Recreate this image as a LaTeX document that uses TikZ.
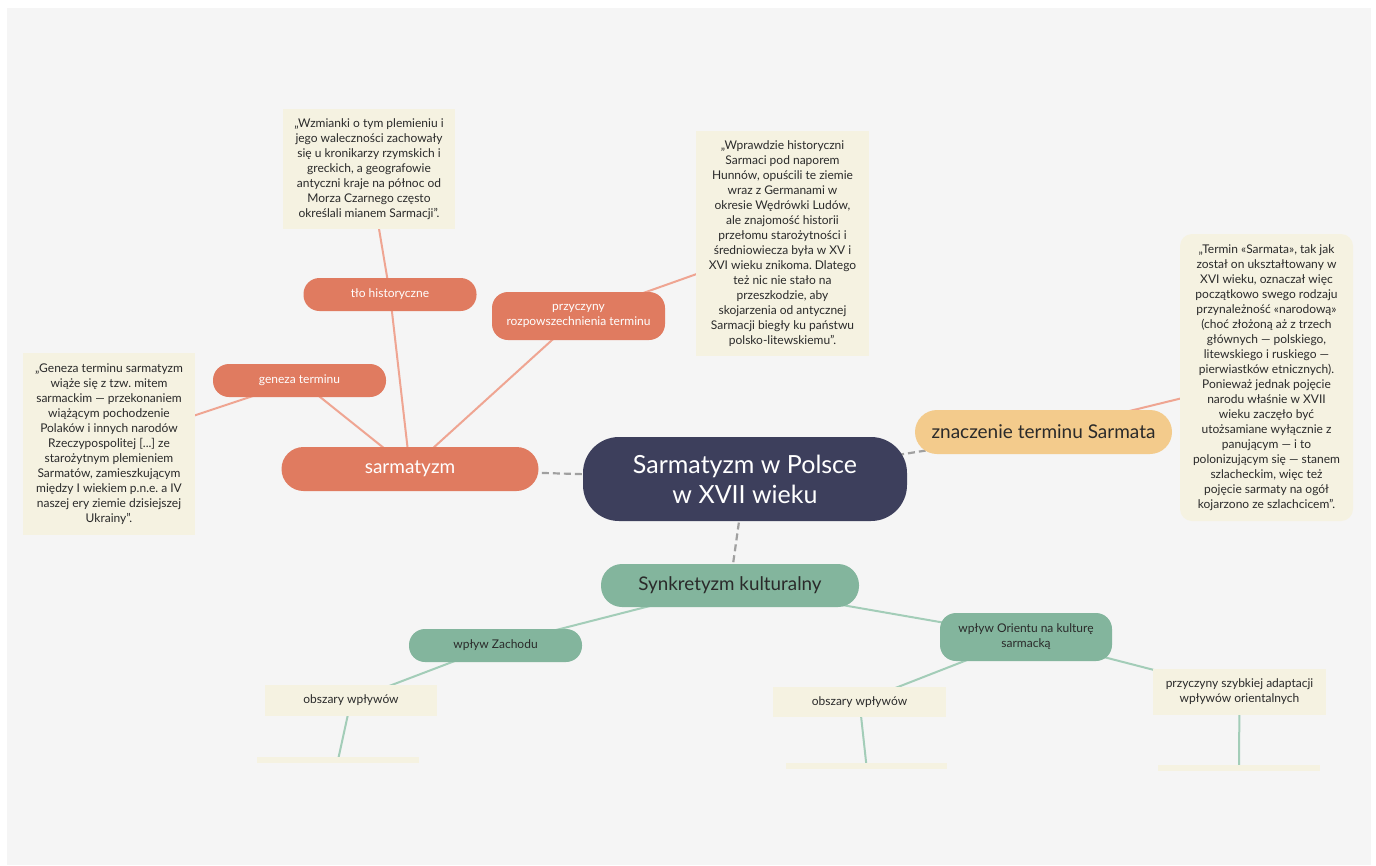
\documentclass[tikz,border=0pt]{standalone}
\usepackage{fontspec}
\setmainfont{Lato}
\frenchspacing
\definecolor{bggray}{HTML}{F5F5F5}
\definecolor{navy}{HTML}{3D3F5C}
\definecolor{coral}{HTML}{E07B60}
\definecolor{coralline}{HTML}{EFA592}
\definecolor{sand}{HTML}{F3CB8C}
\definecolor{sage}{HTML}{83B59D}
\definecolor{sageline}{HTML}{A3CDB8}
\definecolor{cream}{HTML}{F5F2E1}
\definecolor{dashgray}{HTML}{A0A0A0}
\definecolor{ink}{HTML}{2A2A2A}
\pgfdeclarelayer{background}
\pgfsetlayers{background,main}
\tikzset{
  box/.style={inner sep=0pt, align=center, rectangle},
  quotebox/.style={box, fill=cream, text=ink, font=\fontsize{12}{15}\selectfont},
  coralpill/.style={box, fill=coral, text=white, font=\fontsize{12}{15}\selectfont},
  sagepill/.style={box, fill=sage, text=ink, font=\fontsize{12}{15}\selectfont},
  labelbox/.style={box, fill=cream, text=ink, font=\fontsize{12}{15}\selectfont},
  coralconn/.style={draw=coralline, line width=2pt},
  sageconn/.style={draw=sageline, line width=2pt},
  dashconn/.style={draw=dashgray, line width=2.2pt, dash pattern=on 7pt off 4pt},
}
\begin{document}
\begin{tikzpicture}[x=1pt,y=-1pt]
\useasboundingbox (0,0) rectangle (1376,865);
\begin{pgfonlayer}{background}
\fill[white] (0,0) rectangle (1376,865);
\fill[bggray] (7,8) rectangle (1371,865);
\end{pgfonlayer}

% central
\node[box, fill=navy, text=white, rounded corners=36pt, minimum width=324pt, minimum height=84pt,
  font=\fontsize{25}{30}\selectfont] (root) at (745,479) {Sarmatyzm w Polsce\\w XVII wieku};

% sarmatyzm branch
\node[coralpill, rounded corners=22pt, minimum width=257pt, minimum height=44pt,
  font=\fontsize{19}{22}\selectfont] (sarm) at (410,469) {sarmatyzm};
\node[coralpill, rounded corners=16pt, minimum width=173pt, minimum height=33pt] (tlo) at (390,294.5) {tło historyczne};
\node[coralpill, rounded corners=16pt, minimum width=173pt, minimum height=48pt] (przy) at (578.5,316) {przyczyny\\rozpowszechnienia terminu};
\node[coralpill, rounded corners=16pt, minimum width=173pt, minimum height=33pt] (gen) at (299.5,380.5) {geneza terminu};

\node[quotebox, minimum width=172pt, minimum height=120pt] (qtlo) at (369,169) {„Wzmianki o tym plemieniu i\\jego waleczności zachowały\\się u kronikarzy rzymskich i\\greckich, a geografowie\\antyczni kraje na północ od\\Morza Czarnego często\\określali mianem Sarmacji”.};
\node[quotebox, minimum width=173pt, minimum height=225pt] (qprzy) at (782.5,243.5) {„Wprawdzie historyczni\\Sarmaci pod naporem\\Hunnów, opuścili te ziemie\\wraz z Germanami w\\okresie Wędrówki Ludów,\\ale znajomość historii\\przełomu starożytności i\\średniowiecza była w XV i\\XVI wieku znikoma. Dlatego\\też nic nie stało na\\przeszkodzie, aby\\skojarzenia od antycznej\\Sarmacji biegły ku państwu\\polsko-litewskiemu”.};
\node[quotebox, minimum width=172pt, minimum height=182pt] (qgen) at (109,444) {„Geneza terminu sarmatyzm\\wiąże się z tzw. mitem\\sarmackim — przekonaniem\\wiążącym pochodzenie\\Polaków i innych narodów\\Rzeczypospolitej [...] ze\\starożytnym plemieniem\\Sarmatów, zamieszkującym\\między I wiekiem p.n.e. a IV\\naszej ery ziemie dzisiejszej\\Ukrainy”.};

% znaczenie
\node[box, fill=sand, text=ink, rounded corners=22pt, minimum width=257pt, minimum height=44pt,
  font=\fontsize{19}{22}\selectfont] (znacz) at (1043.5,432) {znaczenie terminu Sarmata};
\node[quotebox, rounded corners=12pt, minimum width=173pt, minimum height=287pt] (qznacz) at (1266.5,377.5) {„Termin «Sarmata», tak jak\\został on ukształtowany w\\XVI wieku, oznaczał więc\\początkowo swego rodzaju\\przynależność «narodową»\\(choć złożoną aż z trzech\\głównych — polskiego,\\litewskiego i ruskiego —\\pierwiastków etnicznych).\\Ponieważ jednak pojęcie\\narodu właśnie w XVII\\wieku zaczęło być\\utożsamiane wyłącznie z\\panującym — i to\\polonizującym się — stanem\\szlacheckim, więc też\\pojęcie sarmaty na ogół\\kojarzono ze szlachcicem”.};

% synkretyzm branch
\node[sagepill, rounded corners=21pt, minimum width=258pt, minimum height=43pt,
  font=\fontsize{18.8}{22}\selectfont] (synk) at (730,585.5) {Synkretyzm kulturalny};
\node[sagepill, rounded corners=16pt, minimum width=173pt, minimum height=33pt] (zach) at (495.5,645.5) {wpływ Zachodu};
\node[sagepill, rounded corners=16pt, minimum width=172pt, minimum height=48pt] (orient) at (1026,637) {wpływ Orientu na kulturę\\sarmacką};
\node[labelbox, minimum width=172pt, minimum height=31pt] (obszL) at (351,700.5) {obszary wpływów};
\node[labelbox, minimum width=173pt, minimum height=30pt] (obszR) at (859.5,702) {obszary wpływów};
\node[labelbox, minimum width=173pt, minimum height=46pt] (adapt) at (1239.5,692) {przyczyny szybkiej adaptacji\\wpływów orientalnych};
\node[labelbox, minimum width=162pt, minimum height=6pt] (stripL) at (338,760) {};
\node[labelbox, minimum width=161pt, minimum height=6pt] (stripR) at (866.5,766) {};
\node[labelbox, minimum width=162pt, minimum height=6pt] (stripA) at (1239,767.5) {};

\begin{pgfonlayer}{background}
  \draw[dashconn] (sarm.center) -- (root.center);
  \draw[dashconn] (root.center) -- (znacz.center);
  \draw[dashconn] (root.center) -- (synk.center);
  \draw[coralconn] (sarm.center) -- (tlo.center);
  \draw[coralconn] (tlo.center) -- (qtlo.center);
  \draw[coralconn] (sarm.center) -- (gen.center);
  \draw[coralconn] (gen.center) -- (qgen.center);
  \draw[coralconn] (sarm.center) -- (przy.center);
  \draw[coralconn] (przy.center) -- (qprzy.center);
  \draw[coralconn] (znacz.center) -- (qznacz.center);
  \draw[sageconn] (synk.center) -- (zach.center);
  \draw[sageconn] (synk.center) -- (orient.center);
  \draw[sageconn] (zach.center) -- (obszL.center);
  \draw[sageconn] (obszL.center) -- (stripL.center);
  \draw[sageconn] (orient.center) -- (obszR.center);
  \draw[sageconn] (orient.center) -- (adapt.center);
  \draw[sageconn] (obszR.center) -- (stripR.center);
  \draw[sageconn] (adapt.center) -- (stripA.center);
\end{pgfonlayer}
\end{tikzpicture}
\end{document}
